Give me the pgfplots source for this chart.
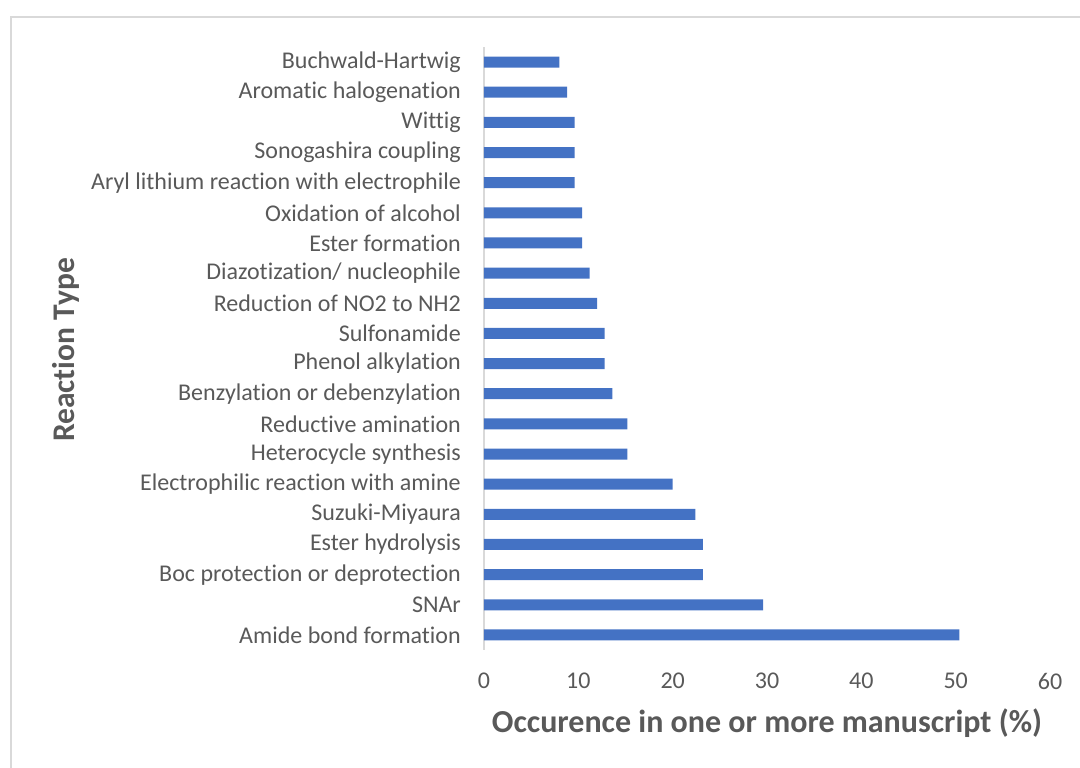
\documentclass[border=0pt]{standalone}
\usepackage{pgfplots}
\pgfplotsset{compat=1.18}
\usepackage{fontspec}
\setmainfont{Carlito}[Ligatures={NoCommon}]
\definecolor{barblue}{HTML}{4472C4}
\definecolor{txtgray}{HTML}{595959}
\definecolor{linegray}{HTML}{D9D9D9}
\begin{document}
\begin{tikzpicture}[x=1pt,y=1pt]
\useasboundingbox (0,0) rectangle (1080,768);
\draw[linegray, line width=2pt] (11,0) -- (11,751) -- (1080,751);
\begin{axis}[
  at={(484pt,118pt)}, anchor=south west,
  scale only axis, width=566pt, height=603pt,
  xbar, bar width=11pt,
  xmin=0, xmax=60, xtick={0,10,...,60},
  ymin=-0.5, ymax=19.5, ytick={0,...,19},
  yticklabels={Amide bond formation, SNAr, Boc protection or deprotection, Ester hydrolysis, Suzuki-Miyaura, Electrophilic reaction with amine, Heterocycle synthesis, Reductive amination, Benzylation or debenzylation, Phenol alkylation, Sulfonamide, Reduction of NO2 to NH2, Diazotization/ nucleophile, Ester formation, Oxidation of alcohol, Aryl lithium reaction with electrophile, Sonogashira coupling, Wittig, Aromatic halogenation, Buchwald-Hartwig},
  axis x line*=bottom, axis y line*=left,
  x axis line style={draw=none},
  y axis line style={draw=linegray, line width=2pt, -},
  major tick length=0pt,
  /pgf/number format/assume math mode=true,
  xticklabel style={font=\fontsize{24}{28}\selectfont, text=txtgray, anchor=center, yshift=-31pt},
  yticklabel style={font=\fontsize{24}{28}\selectfont, text=txtgray, anchor=east, inner sep=0pt, xshift=-23pt},
  clip=false,
]
\addplot[fill=barblue, draw=none] coordinates {
(50.4,0) (29.6,1) (23.2,2) (23.2,3) (22.4,4) (20,5) (15.2,6) (15.2,7) (13.6,8) (12.8,9)
(12.8,10) (12,11) (11.2,12) (10.4,13) (10.4,14) (9.6,15) (9.6,16) (9.6,17) (8.8,18) (8,19)
};
\end{axis}
\node[font=\fontsize{32}{38}\selectfont\bfseries, text=txtgray] at (767,45) {Occurence in one or more manuscript (\%)};
\node[font=\fontsize{31.5}{38}\selectfont\bfseries, text=txtgray, rotate=90] at (66,418) {Reaction Type};
\end{tikzpicture}
\end{document}
